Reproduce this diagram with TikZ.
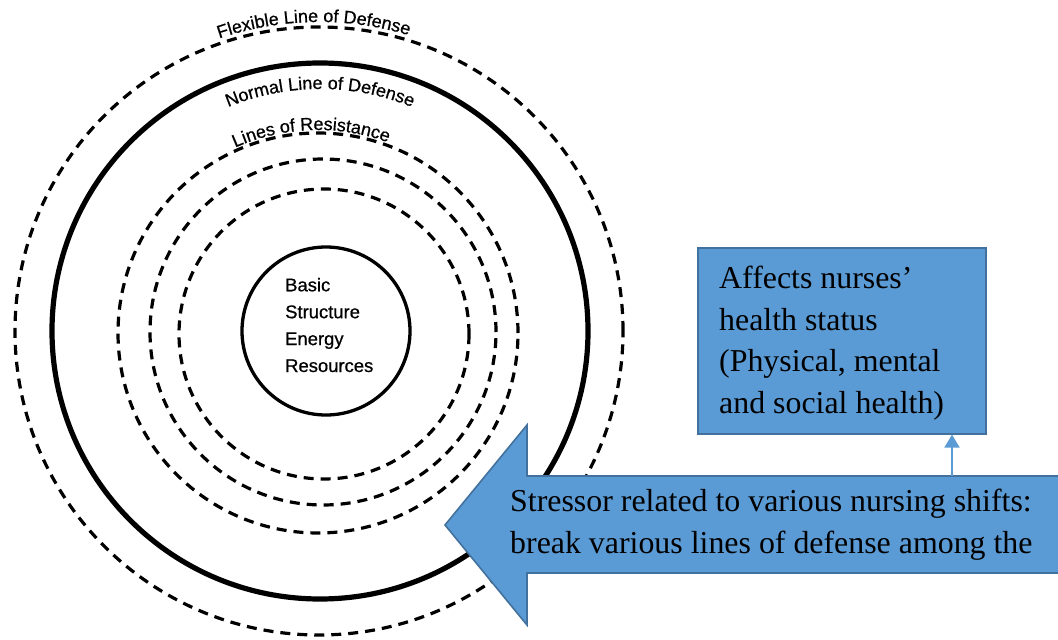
\documentclass[tikz,border=0pt]{standalone}
\usepackage{fontspec}
\setmainfont{Liberation Serif}
\newfontfamily\diagsans{Liberation Sans}[FakeBold=0.7]
\usetikzlibrary{decorations.text,arrows.meta}
\definecolor{boxblue}{RGB}{91,155,213}
\definecolor{boxedge}{RGB}{65,113,156}
\newcommand\arclabelfont{\diagsans\fontsize{18}{20}\selectfont}

\begin{document}
\begin{tikzpicture}[x=1bp,y=1bp,
  ring/.style={line width=3.2bp, dash pattern=on 10bp off 7bp},
  normalline/.style={line width=5.2bp},
  core/.style={circle, draw, line width=3.3bp, minimum size=168bp, inner sep=0pt},
  arclabel/.style={decorate, decoration={text along path, text align=center,
      text={|\arclabelfont|#1}}},
  bluebox/.style={fill=boxblue, draw=boxedge, line width=1.6bp},
  % multi-line texts are placed by the baseline of their last line
  bodytext/.style={font=\fontsize{32}{41.5}\selectfont, align=left,
      inner sep=0pt, anchor=base west},
  coretext/.style={font=\diagsans\fontsize{18.5}{27}\selectfont, align=left,
      inner sep=0pt, anchor=base west},
  linkarrow/.style={draw=boxblue, line width=2bp, -{Triangle[width=15bp,length=13bp]}}
]
\useasboundingbox (0,0) rectangle (1058,-640);
\clip (0,0) rectangle (1058,-640);

% concentric lines of the client system
\draw[ring] (319,-331) circle[radius=304];
\draw[normalline] (320,-331) circle[radius=268];
\draw[ring] (318,-333) circle[radius=200];
\draw[ring] (323,-332) circle[radius=173];
\draw[ring] (324,-334) circle[radius=145];
\node[core] (core) at (326,-331) {};
\node[coretext] (coretxt) at (285,-372) {Basic\\Structure\\Energy\\Resources};

% labels following the rings
\path[arclabel={Flexible Line of Defense}]
  (319,-331) ++(131:309) arc[start angle=131, end angle=51, radius=309];
\path[arclabel={Normal Line of Defense}]
  (320,-331) ++(130:242) arc[start angle=130, end angle=50, radius=242];
\path[arclabel={Lines of Resistance}]
  (318,-333) ++(132:203) arc[start angle=132, end angle=52, radius=203];

% stressor block arrow
\path[bluebox] (445,-525) -- (527,-425) -- (527,-476) -- (1070,-476)
  -- (1070,-573) -- (527,-573) -- (527,-625) -- cycle;
\node[bodytext] (stressor) at (510,-553)
  {Stressor related to various nursing shifts:\\break various lines of defense among the};

% effect box
\node[bluebox, minimum width=288bp, minimum height=186bp, anchor=north west,
  inner sep=0pt] (effects) at (697,-247) {};
\node[bodytext] (effectstext) at (719,-413)
  {Affects nurses’\\health status\\(Physical, mental\\and social health)};

% link from the stressor to the effect
\coordinate (shafttop) at (952,-476);
\draw[linkarrow] (shafttop) -- (shafttop |- effects.south);
\end{tikzpicture}
\end{document}
